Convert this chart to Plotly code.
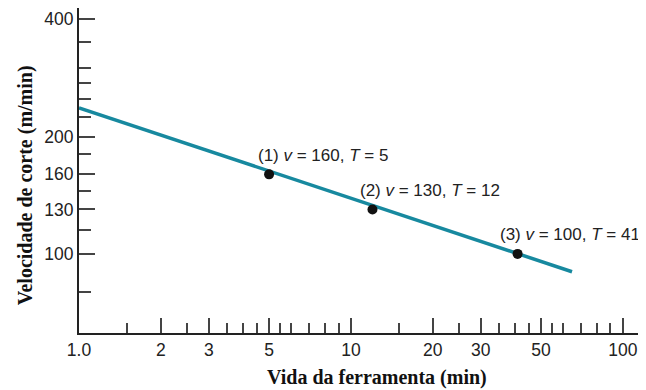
import math
import plotly.graph_objects as go

# Data
line_T = [1, 65]          # tool life (min), ends of drawn line
line_v = [237, 90]        # cutting speed (m/min)
pts_T = [5, 12, 41]
pts_v = [160, 130, 100]
pts_labels = ["(1) <i>v</i> = 160, <i>T</i> = 5",
              "(2) <i>v</i> = 130, <i>T</i> = 12",
              "(3) <i>v</i> = 100, <i>T</i> = 41"]
label_shift = [-13, -14, -20]

x_tickvals = [1, 2, 3, 5, 10, 20, 30, 50, 100]
x_ticktext = ["1.0", "2", "3", "5", "10", "20", "30", "50", "100"]
x_minor = [1.5, 2.5, 3.5, 4, 4.5, 5.5, 6, 7, 8, 9,
           15, 25, 35, 40, 45, 55, 60, 70, 80, 90]
y_tickvals = [100, 130, 160, 200, 400]
y_minor = [80, 115, 145, 180, 225, 250, 275, 300, 350]

teal = "#17899f"
tickfont = dict(family="Liberation Sans, Arial, sans-serif", size=17.5, color="#222")
titlefont = dict(family="Liberation Serif, Times New Roman, serif", size=20, color="#111")

fig = go.Figure()
fig.add_trace(go.Scatter(x=line_T, y=line_v, mode="lines",
                         line=dict(color=teal, width=3.5), hoverinfo="skip"))
fig.add_trace(go.Scatter(x=pts_T, y=pts_v, mode="markers",
                         marker=dict(color="#111", size=10)))

# log axes: annotation positions are given in log10 units
for t, v, lab, sh in zip(pts_T, pts_v, pts_labels, label_shift):
    fig.add_annotation(x=math.log10(t), y=math.log10(v), xref="x", yref="y",
                       text=lab, showarrow=False,
                       xanchor="left", yanchor="middle", xshift=sh, yshift=19,
                       font=dict(family="Liberation Sans, Arial, sans-serif", size=17, color="#222"))

# axis titles
fig.add_annotation(x=0.5256, y=-0.138, xref="paper", yref="paper",
                   text="<b>Vida da ferramenta (min)</b>", showarrow=False,
                   xanchor="center", yanchor="middle", font=titlefont)
fig.add_annotation(x=-0.0952, y=0.455, xref="paper", yref="paper",
                   text="<b>Velocidade de corte (m/min)</b>", showarrow=False,
                   textangle=-90, xanchor="center", yanchor="middle", font=titlefont)

# the page body adds an 8px margin, so the figure is sized to fit the window
fig.update_layout(
    width=638, height=382,
    margin=dict(l=71, r=0, t=0, b=57),
    plot_bgcolor="white", paper_bgcolor="white",
    showlegend=False,
    xaxis=dict(type="log", range=[0, 2.085], automargin=False,
               tickmode="array", tickvals=x_tickvals, ticktext=x_ticktext,
               ticks="inside", ticklen=15, tickwidth=1.5, tickcolor="#444",
               minor=dict(tickmode="array", tickvals=x_minor, ticks="inside",
                          ticklen=10, tickwidth=1.5, tickcolor="#444", showgrid=False),
               showline=True, linecolor="#222", linewidth=2,
               showgrid=False, zeroline=False, tickfont=tickfont),
    yaxis=dict(type="log", range=[1.797, 2.631], automargin=False,
               tickmode="array", tickvals=y_tickvals, ticktext=[str(v) for v in y_tickvals],
               ticks="inside", ticklen=16, tickwidth=1.5, tickcolor="#444",
               minor=dict(tickmode="array", tickvals=y_minor, ticks="inside",
                          ticklen=12, tickwidth=1.5, tickcolor="#444", showgrid=False),
               showline=True, linecolor="#222", linewidth=2,
               showgrid=False, zeroline=False, tickfont=tickfont),
)

fig.write_html("out.html")
